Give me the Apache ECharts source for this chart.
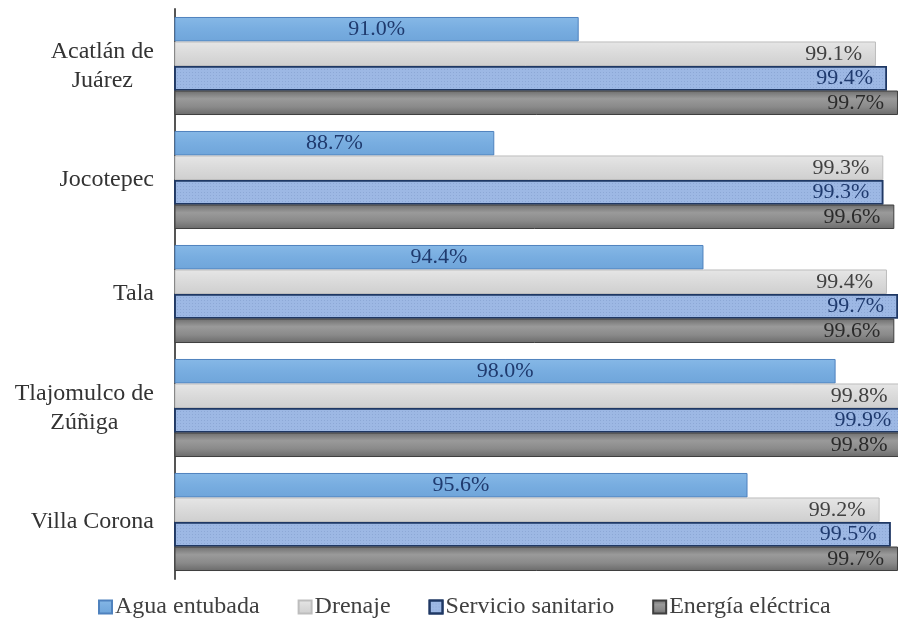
<!DOCTYPE html>
<html>
<head>
<meta charset="utf-8">
<script src="https://cdn.jsdelivr.net/npm/echarts@6/dist/echarts.min.js"></script>
<style>
html,body{margin:0;padding:0;background:#fff;}
#chart{width:898px;height:621px;}
</style>
</head>
<body>
<div id="chart"></div>
<script>
const categories = ['Acatlán de\nJuárez', 'Jocotepec', 'Tala', 'Tlajomulco de\nZúñiga', 'Villa Corona'];
const seriesNames = ['Agua entubada', 'Drenaje', 'Servicio sanitario', 'Energía eléctrica'];
const agua = [91.0, 88.7, 94.4, 98.0, 95.6];
const drenaje = [99.1, 99.3, 99.4, 99.8, 99.2];
const sanitario = [99.4, 99.3, 99.7, 99.9, 99.5];
const energia = [99.7, 99.6, 99.6, 99.8, 99.7];

const FONT = 'Liberation Serif';
const chart = echarts.init(document.getElementById('chart'));
const fmt = p => p.value.toFixed(1) + '%';

function grad(stops) {
  return new echarts.graphic.LinearGradient(0, 0, 0, 1, stops.map((c, i) => ({offset: i / (stops.length - 1), color: c})));
}

chart.setOption({
  backgroundColor: '#ffffff',
  animation: false,
  grid: {left: 175, top: 9, width: 734, height: 570, containLabel: false, outerBoundsMode: 'none'},
  xAxis: {
    type: 'value', min: 80, max: 100, show: false,
    splitLine: {show: false}
  },
  yAxis: {
    type: 'category', inverse: true, data: categories,
    axisLine: {show: true, lineStyle: {color: '#555', width: 2}},
    axisTick: {show: false},
    axisLabel: {
      margin: 21, color: '#333', fontFamily: FONT, fontSize: 24, lineHeight: 29,
      formatter: v => v.split('\n').map(l => '{c|' + l + '}').join('\n'),
      rich: {c: {align: 'center', fontFamily: FONT, fontSize: 24, lineHeight: 29, color: '#333'}}
    }
  },
  legend: {
    top: 590, left: 93, itemGap: 38, itemWidth: 13, itemHeight: 13, icon: 'rect',
    textStyle: {fontFamily: FONT, fontSize: 24, color: '#404040', padding: [0, 0, 0, -2]},
    data: seriesNames
  },
  series: [
    {
      name: seriesNames[0], type: 'bar', data: agua, barGap: '0%', barCategoryGap: '14%',
      itemStyle: {color: grad(['#86B8E6', '#78ADE0', '#6FA5DA']), borderColor: '#4F82BE', borderWidth: 1},
      label: {show: true, position: 'inside', formatter: fmt, fontFamily: FONT, fontSize: 22, color: '#1F3A6E'}
    },
    {
      name: seriesNames[1], type: 'bar', data: drenaje,
      itemStyle: {color: grad(['#E6E6E6', '#DADADA', '#CFCFCF']), borderColor: '#BDBDBD', borderWidth: 1},
      label: {show: true, position: 'insideRight', distance: 14, formatter: fmt, fontFamily: FONT, fontSize: 22, color: '#404040'}
    },
    {
      name: seriesNames[2], type: 'bar', data: sanitario,
      itemStyle: {
        color: '#9DB8E4', borderColor: '#1F3864', borderWidth: 1.5,
        decal: {symbol: 'rect', symbolSize: 1, color: 'rgba(40,70,130,0.14)', dashArrayX: [1, 2], dashArrayY: [1, 2], rotation: 0}
      },
      label: {show: true, position: 'insideRight', distance: 14, formatter: fmt, fontFamily: FONT, fontSize: 22, color: '#1F3A6E'}
    },
    {
      name: seriesNames[3], type: 'bar', data: energia,
      itemStyle: {color: grad(['#6E6E6E', '#9A9A9A', '#8A8A8A', '#6A6A6A']), borderColor: '#3F3F3F', borderWidth: 1},
      label: {show: true, position: 'insideRight', distance: 14, formatter: fmt, fontFamily: FONT, fontSize: 22, color: '#2A2A2A'}
    }
  ]
});
</script>
</body>
</html>
